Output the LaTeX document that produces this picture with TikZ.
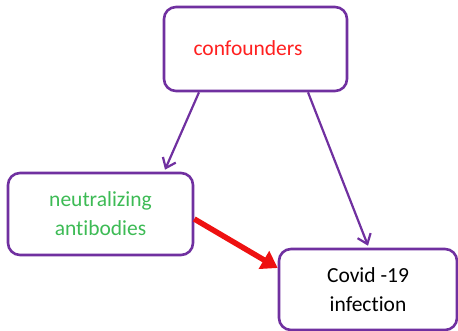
\documentclass[tikz,border=0pt]{standalone}
\usepackage{fontspec}
\setmainfont[Ligatures=NoCommon]{Carlito}
\usetikzlibrary{arrows.meta,calc}
\definecolor{boxpurple}{HTML}{7030A0}
\definecolor{txtred}{HTML}{FF2020}
\definecolor{txtgreen}{HTML}{3DBB55}
\definecolor{arrred}{HTML}{EE1111}
\tikzset{
  labelfont/.style={font=\fontsize{21.5}{29}\selectfont},
  box/.style={draw=boxpurple, line width=2.6pt, rounded corners=12pt, fill=white, align=center, labelfont, inner sep=0pt},
  causal/.style={draw=boxpurple, line width=2.2pt, -{Straight Barb[length=9pt,width=14pt,line width=2.2pt]}},
  effect/.style={draw=arrred, line width=5.5pt, -{Triangle[length=16pt,width=20pt]}}
}
\begin{document}
\begin{tikzpicture}[x=1pt,y=-1pt]
  \useasboundingbox (0,0) rectangle (458,331);
  \node[box, minimum width=183pt, minimum height=84pt] (conf) at (255.5,49) {};
  \node[text=txtred, labelfont] (conftxt) at (248,48) {confounders};
  \node[box, minimum width=185pt, minimum height=82pt, text=txtgreen] (nab) at (100.5,214) {neutralizing\\antibodies};
  \node[box, minimum width=178pt, minimum height=81pt, text=black] (cov) at (368,289.5) {Covid -19\\infection};
  \draw[causal] ([xshift=-56.5pt]conf.south) -- ([xshift=64.5pt,yshift=2pt]nab.north);
  \draw[causal] ([xshift=52.5pt]conf.south) -- ([yshift=2pt]cov.north);
  \draw[effect] ([yshift=-5pt]nab.east) -- ([yshift=21.5pt]cov.west);
\end{tikzpicture}
\end{document}
